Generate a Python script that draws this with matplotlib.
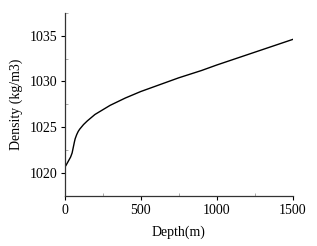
import matplotlib
matplotlib.use('Agg')
from matplotlib import pyplot as plt
from matplotlib.ticker import MultipleLocator

# profil densitate vs adancime
depth = [0, 10, 20, 30, 40, 50, 55, 60, 65, 70, 80, 90, 100, 125, 150, 200, 250, 300,
         400, 500, 600, 750, 900, 1000, 1250, 1500]
density = [1020.6, 1020.85, 1021.15, 1021.45, 1021.75, 1022.2, 1022.6, 1023.0, 1023.4,
           1023.75, 1024.2, 1024.55, 1024.8, 1025.3, 1025.7, 1026.4, 1026.9, 1027.4,
           1028.2, 1028.9, 1029.5, 1030.4, 1031.2, 1031.8, 1033.2, 1034.6]

plt.rcParams['font.family'] = ['Liberation Serif', 'DejaVu Serif']

fig = plt.figure(figsize=(3.17, 2.46), dpi=100)
ax = fig.add_axes([0.2035, 0.2033, 0.924 - 0.2035, 0.948 - 0.2033])
ax.plot(depth, density, color='black', linewidth=1.0)

ax.set_xlim(0, 1500)
ax.set_ylim(1017.5, 1037.5)
ax.set_xticks([0, 500, 1000, 1500])
ax.set_yticks([1020, 1025, 1030, 1035])
ax.xaxis.set_minor_locator(MultipleLocator(250))
ax.yaxis.set_minor_locator(MultipleLocator(2.5))

for s in ['top', 'right']:
    ax.spines[s].set_visible(False)
for s in ['left', 'bottom']:
    ax.spines[s].set_color('#333333')
    ax.spines[s].set_linewidth(0.9)

ax.tick_params(which='major', direction='out', length=3, width=0.8, labelsize=10, pad=3)
ax.tick_params(axis='y', which='major', pad=2)
ax.tick_params(which='minor', direction='in', length=2, width=0.5, color='#888888')

ax.set_xlabel('Depth(m)', fontsize=10, labelpad=6)
ax.set_ylabel('Density (kg/m3)', fontsize=10, labelpad=5)

fig.savefig('out.png', dpi=100)
